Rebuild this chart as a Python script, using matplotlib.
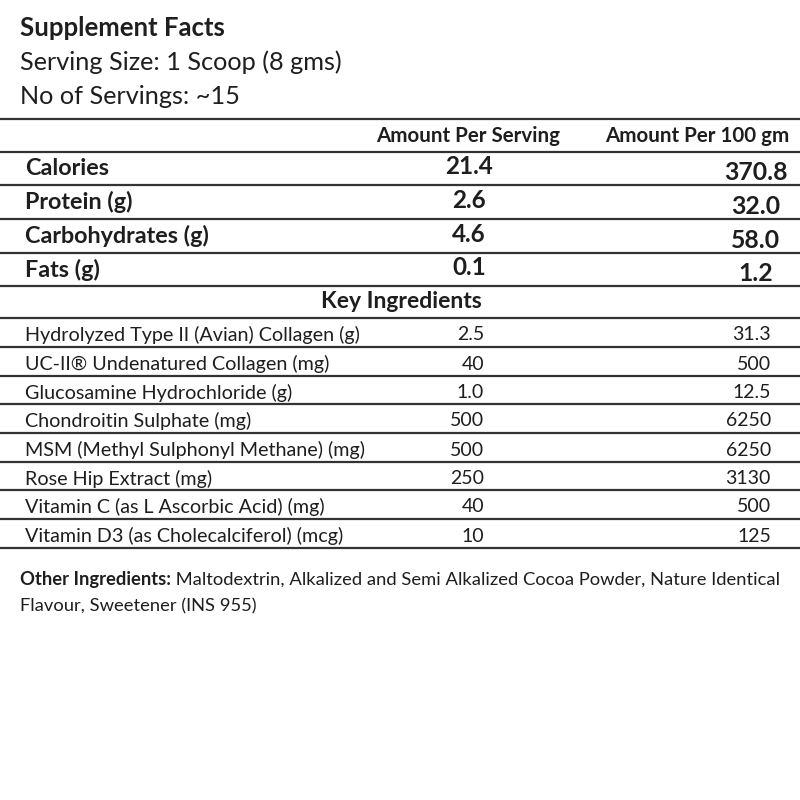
import matplotlib
matplotlib.use("Agg")
import matplotlib.pyplot as plt

plt.rcParams['font.family'] = ['Lato', 'DejaVu Sans']

# Table contents
title = "Supplement Facts"
serving_size = "Serving Size: 1 Scoop (8 gms)"
servings = "No of Servings: ~15"
col_headers = ["Amount Per Serving", "Amount Per 100 gm"]

macro_names = ["Calories", "Protein (g)", "Carbohydrates (g)", "Fats (g)"]
macro_serving = ["21.4", "2.6", "4.6", "0.1"]
macro_100g = ["370.8", "32.0", "58.0", "1.2"]

key_title = "Key Ingredients"
ingr_names = [
    "Hydrolyzed Type II (Avian) Collagen (g)",
    "UC-II\u00ae Undenatured Collagen (mg)",
    "Glucosamine Hydrochloride (g)",
    "Chondroitin Sulphate (mg)",
    "MSM (Methyl Sulphonyl Methane) (mg)",
    "Rose Hip Extract (mg)",
    "Vitamin C (as L Ascorbic Acid) (mg)",
    "Vitamin D3 (as Cholecalciferol) (mcg)",
]
ingr_serving = ["2.5", "40", "1.0", "500", "500", "250", "40", "10"]
ingr_100g = ["31.3", "500", "12.5", "6250", "6250", "3130", "500", "125"]

other_label = "Other Ingredients:"
other_text = (" Maltodextrin, Alkalized and Semi Alkalized Cocoa Powder, Nature Identical",
              "Flavour, Sweetener (INS 955)")

ink = "#1e1e1e"
rule = "#333333"

fig = plt.figure(figsize=(8, 8), dpi=100)
ax = fig.add_axes([0, 0, 1, 1])
ax.set_xlim(0, 800)
ax.set_ylim(800, 0)
ax.axis("off")

# header block
ax.text(20, 28, title, fontsize=18.5, fontweight="bold", color=ink, va="center")
ax.text(20, 62, serving_size, fontsize=18.2, color=ink, va="center")
ax.text(20, 96, servings, fontsize=18.2, color=ink, va="center")

ax.axhline(119, color=rule, lw=1.6)
ax.text(468, 136, col_headers[0], fontsize=14.8, fontweight="bold", color=ink,
        ha="center", va="center")
ax.text(697, 136, col_headers[1], fontsize=14.8, fontweight="bold", color=ink,
        ha="center", va="center")
ax.axhline(152, color=rule, lw=1.6)

# macro rows
macro_lines = [152, 185, 219, 253, 286]
for i, name in enumerate(macro_names):
    top, bot = macro_lines[i], macro_lines[i + 1]
    mid = (top + bot) / 2
    ax.text(25, mid, name, fontsize=16.8, fontweight="bold", color=ink, va="center")
    ax.text(469, mid - 2, macro_serving[i], fontsize=17.5, fontweight="bold",
            color=ink, ha="center", va="center")
    ax.text(756, mid + 4, macro_100g[i], fontsize=17.8, fontweight="bold",
            color=ink, ha="center", va="center")
    ax.axhline(bot, color=rule, lw=1.6)

ax.text(401, 301, key_title, fontsize=16.5, fontweight="bold", color=ink,
        ha="center", va="center")

# ingredient rows
ingr_lines = [318, 347, 376, 404, 433, 462, 490, 519, 548]
ax.axhline(ingr_lines[0], color=rule, lw=1.6)
for i, name in enumerate(ingr_names):
    top, bot = ingr_lines[i], ingr_lines[i + 1]
    mid = (top + bot) / 2 + 2.5
    ax.text(25, mid, name, fontsize=14.2, color=ink, va="center")
    ax.text(484, mid, ingr_serving[i], fontsize=14, color=ink, ha="right", va="center")
    ax.text(771, mid, ingr_100g[i], fontsize=14, color=ink, ha="right", va="center")
    ax.axhline(bot, color=rule, lw=1.6)

# other ingredients
lbl = ax.text(20, 580, other_label, fontsize=13.2, fontweight="bold", color=ink,
              va="center")
ax.annotate(other_text[0], xy=(1, 0.5), xycoords=lbl, fontsize=13.2, color=ink,
            va="center", ha="left")
ax.text(20, 606, other_text[1], fontsize=13.2, color=ink, va="center")

fig.savefig("out.png", dpi=100, facecolor="white")
